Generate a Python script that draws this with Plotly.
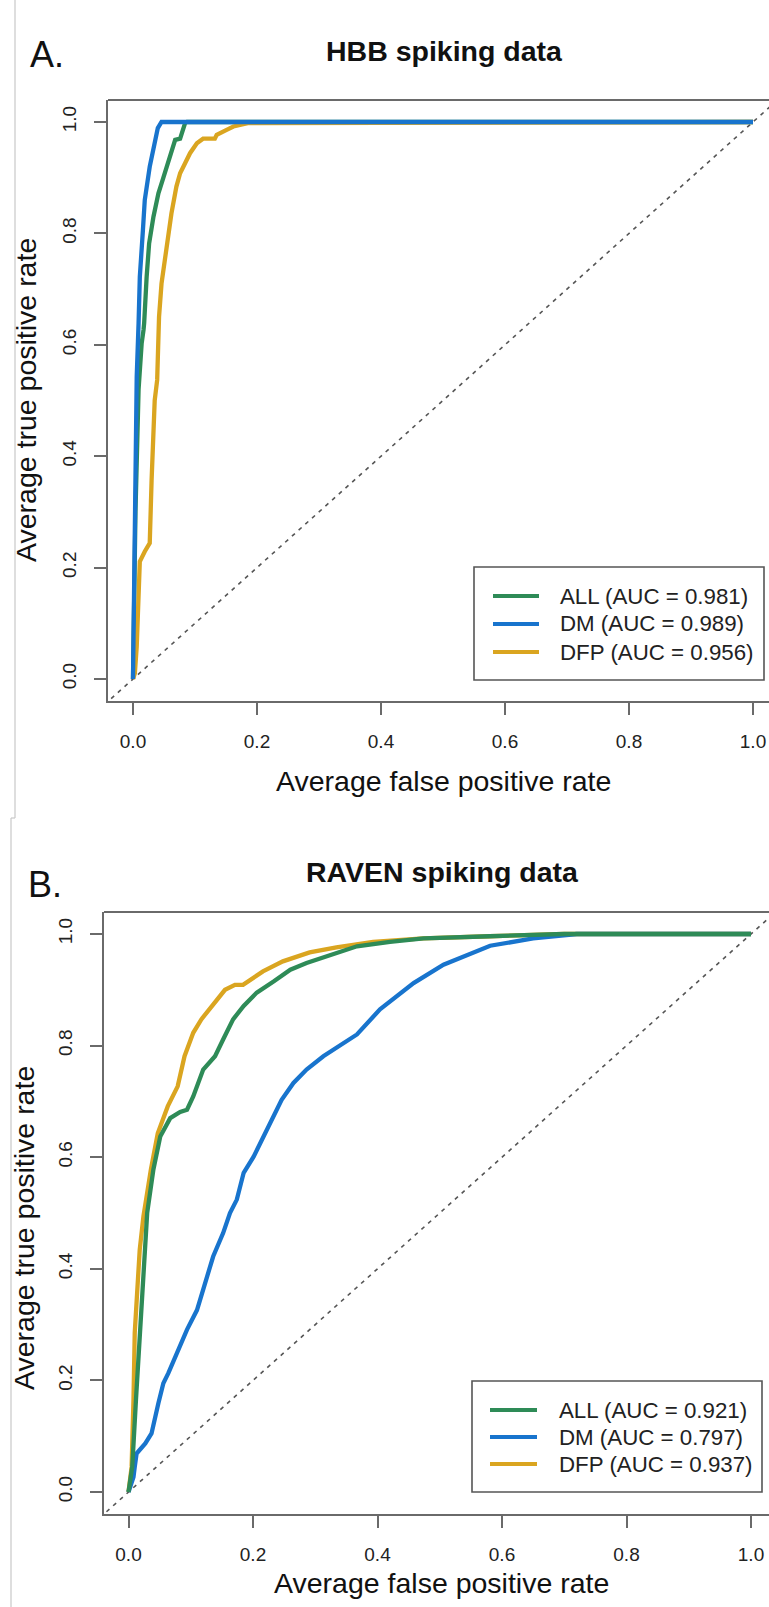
import plotly.graph_objects as go

# ---------------- data ----------------
tick_vals = [0.0, 0.2, 0.4, 0.6, 0.8, 1.0]
tick_text = ["0.0", "0.2", "0.4", "0.6", "0.8", "1.0"]

series_names = ["ALL", "DM", "DFP"]
series_colors = ["#2E8B57", "#1874CD", "#DAA520"]

panel_titles = ["HBB spiking data", "RAVEN spiking data"]
panel_letters = ["A.", "B."]

hbb_auc = [0.981, 0.989, 0.956]
raven_auc = [0.921, 0.797, 0.937]

# HBB spiking data (panel A)
hbb_all_fpr = [0, 0.004, 0.009, 0.012, 0.014, 0.017, 0.018, 0.022, 0.026, 0.033, 0.041, 0.049, 0.060, 0.068, 0.076, 0.084, 0.087, 1.0]
hbb_all_tpr = [0, 0.30, 0.52, 0.58, 0.603, 0.627, 0.639, 0.722, 0.782, 0.83, 0.872, 0.90, 0.938, 0.968, 0.97, 0.998, 1.0, 1.0]

hbb_dm_fpr = [0, 0.002, 0.004, 0.006, 0.009, 0.011, 0.016, 0.019, 0.027, 0.033, 0.040, 0.046, 1.0]
hbb_dm_tpr = [0, 0.178, 0.36, 0.543, 0.639, 0.722, 0.806, 0.86, 0.92, 0.956, 0.989, 1.0, 1.0]

hbb_dfp_fpr = [0, 0.003, 0.006, 0.009, 0.011, 0.019, 0.027, 0.030, 0.033, 0.035, 0.039, 0.040, 0.042, 0.046, 0.052,
               0.057, 0.062, 0.070, 0.076, 0.084, 0.092, 0.103, 0.113, 0.132, 0.135, 0.151, 0.162, 0.185, 1.0]
hbb_dfp_tpr = [0, 0.01, 0.058, 0.166, 0.211, 0.229, 0.244, 0.357, 0.459, 0.50, 0.537, 0.579, 0.65, 0.71, 0.758,
               0.80, 0.836, 0.884, 0.908, 0.926, 0.944, 0.962, 0.97, 0.97, 0.977, 0.986, 0.992, 0.998, 1.0]

# RAVEN spiking data (panel B)
raven_all_fpr = [0, 0.006, 0.012, 0.018, 0.026, 0.030, 0.040, 0.051, 0.067, 0.083, 0.094, 0.104, 0.120, 0.139, 0.152,
                 0.168, 0.185, 0.206, 0.233, 0.260, 0.286, 0.324, 0.367, 0.420, 0.474, 0.580, 0.70, 1.0]
raven_all_tpr = [0, 0.045, 0.165, 0.285, 0.434, 0.50, 0.578, 0.637, 0.670, 0.681, 0.685, 0.709, 0.757, 0.781, 0.811,
                 0.847, 0.871, 0.895, 0.915, 0.936, 0.948, 0.963, 0.978, 0.986, 0.992, 0.996, 1.0, 1.0]

raven_dm_fpr = [0, 0.008, 0.010, 0.013, 0.027, 0.037, 0.048, 0.056, 0.064, 0.077, 0.094, 0.110, 0.126, 0.136, 0.152,
                0.163, 0.174, 0.185, 0.201, 0.217, 0.230, 0.246, 0.265, 0.286, 0.313, 0.345, 0.367, 0.404, 0.431,
                0.458, 0.506, 0.544, 0.581, 0.65, 0.72, 1.0]
raven_dm_tpr = [0, 0.027, 0.045, 0.069, 0.087, 0.105, 0.159, 0.195, 0.213, 0.249, 0.291, 0.326, 0.386, 0.422, 0.464,
                0.500, 0.524, 0.572, 0.601, 0.637, 0.667, 0.703, 0.733, 0.757, 0.781, 0.805, 0.820, 0.865, 0.889,
                0.912, 0.945, 0.963, 0.979, 0.992, 1.0, 1.0]

raven_dfp_fpr = [0, 0.005, 0.008, 0.010, 0.018, 0.024, 0.036, 0.047, 0.063, 0.079, 0.090, 0.104, 0.117, 0.136, 0.155,
                 0.171, 0.184, 0.216, 0.248, 0.291, 0.334, 0.393, 0.473, 0.580, 0.70, 1.0]
raven_dfp_tpr = [0, 0.045, 0.165, 0.285, 0.434, 0.494, 0.578, 0.643, 0.691, 0.727, 0.781, 0.823, 0.847, 0.874, 0.900,
                 0.909, 0.909, 0.933, 0.951, 0.967, 0.976, 0.986, 0.992, 0.996, 1.0, 1.0]

diag_x = [-0.1, 1.1]
diag_y = [-0.1, 1.1]

x_label = "Average false positive rate"
y_label = "Average true positive rate"

# ---------------- layout helpers ----------------
W, H = 769, 1607
FONT = "Liberation Sans, Arial, sans-serif"
AXC = "#6a6a6a"


def px(x):
    return x / W


def py(y):
    return 1 - y / H


fig = go.Figure()

panels = [
    dict(curves=[(hbb_all_fpr, hbb_all_tpr), (hbb_dm_fpr, hbb_dm_tpr), (hbb_dfp_fpr, hbb_dfp_tpr)],
         auc=hbb_auc, xa="x", ya="y", order=[0, 2, 1]),
    dict(curves=[(raven_all_fpr, raven_all_tpr), (raven_dm_fpr, raven_dm_tpr), (raven_dfp_fpr, raven_dfp_tpr)],
         auc=raven_auc, xa="x2", ya="y2", order=[2, 1, 0]),
]

for p in panels:
    fig.add_trace(go.Scatter(x=diag_x, y=diag_y, mode="lines", xaxis=p["xa"], yaxis=p["ya"],
                             line=dict(color="#555555", width=1.6, dash="4px,5px"),
                             showlegend=False, hoverinfo="skip"))
    for i in p["order"]:
        fx, ty = p["curves"][i]
        fig.add_trace(go.Scatter(x=fx, y=ty, mode="lines", xaxis=p["xa"], yaxis=p["ya"],
                                 line=dict(color=series_colors[i], width=4.3),
                                 name=f"{series_names[i]} (AUC = {p['auc'][i]:.3f})", showlegend=False))

axis_common = dict(showgrid=False, zeroline=False, showline=True, linecolor=AXC, linewidth=2,
                   ticks="outside", ticklen=12, tickwidth=1.6, tickcolor=AXC,
                   tickvals=tick_vals, ticktext=tick_text,
                   tickfont=dict(family=FONT, size=19, color="#222222"))

# Panel A geometry (pixels)
A = dict(left=108, top=100, bottom=701, x0=133, xs=620, y0=679, ys=557)
# Panel B geometry (pixels)
B = dict(left=104, top=912, bottom=1514, x0=128.5, xs=622.5, y0=1492, ys=558)


def xrange_for(g):
    return [(g["left"] - g["x0"]) / g["xs"], (W - g["x0"]) / g["xs"]]


def yrange_for(g):
    return [(g["y0"] - g["bottom"]) / g["ys"], (g["y0"] - g["top"]) / g["ys"]]


fig.update_layout(
    width=W, height=H, margin=dict(l=0, r=0, t=0, b=0),
    paper_bgcolor="white", plot_bgcolor="white", showlegend=False,
    xaxis=dict(axis_common, domain=[px(A["left"]), 1], range=xrange_for(A), anchor="y",
               ticklabelstandoff=10),
    yaxis=dict(axis_common, domain=[py(A["bottom"]), py(A["top"])], range=yrange_for(A), anchor="x",
               tickangle=-90, ticklabelstandoff=10),
    xaxis2=dict(axis_common, domain=[px(B["left"]), 1], range=xrange_for(B), anchor="y2",
                ticklabelstandoff=10),
    yaxis2=dict(axis_common, domain=[py(B["bottom"]), py(B["top"])], range=yrange_for(B), anchor="x2",
                tickangle=-90, ticklabelstandoff=10),
)

shapes = []
annotations = []

# Screenshot frame lines
frame = "#c8c8c8"
shapes.append(dict(type="line", xref="paper", yref="paper", x0=px(15), x1=px(15), y0=py(0), y1=py(818),
                   line=dict(color=frame, width=1.2)))
shapes.append(dict(type="line", xref="paper", yref="paper", x0=px(11), x1=px(15), y0=py(818), y1=py(818),
                   line=dict(color=frame, width=1.2)))
shapes.append(dict(type="line", xref="paper", yref="paper", x0=px(11), x1=px(11), y0=py(818), y1=py(H),
                   line=dict(color=frame, width=1.2)))

panel_geo = [
    dict(g=A, title_y=50.5, letter_x=28, letter_y=54, xlab_y=781, ylab_x=26, ylab_y=400,
         leg=dict(x0=474, x1=764, y0=567, y1=680, rows=[596, 624, 652], lx0=493, lx1=539, tx=558)),
    dict(g=B, title_y=872, letter_x=26, letter_y=884, xlab_y=1583, ylab_x=24, ylab_y=1228,
         leg=dict(x0=472, x1=762, y0=1381, y1=1492, rows=[1410, 1437, 1464], lx0=490, lx1=537, tx=557)),
]

for pg, title, letter, p in zip(panel_geo, panel_titles, panel_letters, panels):
    g = pg["g"]
    # top border of the plot box
    shapes.append(dict(type="line", xref="paper", yref="paper", x0=px(g["left"]), x1=1,
                       y0=py(g["top"]), y1=py(g["top"]), line=dict(color=AXC, width=2)))
    cx = (g["left"] + g["left"] + g["xs"] * 1.08) / 2
    annotations.append(dict(text=f"<b>{title}</b>", xref="paper", yref="paper", x=px(cx + 2), y=py(pg["title_y"]),
                            xanchor="center", yanchor="middle", showarrow=False,
                            font=dict(family=FONT, size=28.5, color="#111111")))
    annotations.append(dict(text=letter, xref="paper", yref="paper", x=px(pg["letter_x"]), y=py(pg["letter_y"]),
                            xanchor="left", yanchor="middle", showarrow=False,
                            font=dict(family=FONT, size=36, color="#111111")))
    annotations.append(dict(text=x_label, xref="paper", yref="paper", x=px(cx + 1), y=py(pg["xlab_y"]),
                            xanchor="center", yanchor="middle", showarrow=False,
                            font=dict(family=FONT, size=28.5, color="#111111")))
    annotations.append(dict(text=y_label, xref="paper", yref="paper", x=px(pg["ylab_x"]), y=py(pg["ylab_y"]),
                            xanchor="center", yanchor="middle", showarrow=False, textangle=-90,
                            font=dict(family=FONT, size=28.5, color="#111111")))
    # legend box
    lg = pg["leg"]
    shapes.append(dict(type="rect", xref="paper", yref="paper", x0=px(lg["x0"]), x1=px(lg["x1"]),
                       y0=py(lg["y1"]), y1=py(lg["y0"]), line=dict(color="#555555", width=1.6),
                       fillcolor="white", layer="above"))
    for ry, name, col, auc in zip(lg["rows"], series_names, series_colors, p["auc"]):
        shapes.append(dict(type="line", xref="paper", yref="paper", x0=px(lg["lx0"]), x1=px(lg["lx1"]),
                           y0=py(ry), y1=py(ry), line=dict(color=col, width=4.2), layer="above"))
        annotations.append(dict(text=f"{name} (AUC = {auc:.3f})", xref="paper", yref="paper",
                                x=px(lg["tx"]), y=py(ry), xanchor="left", yanchor="middle", showarrow=False,
                                font=dict(family=FONT, size=22.3, color="#222222")))

fig.update_layout(shapes=shapes, annotations=annotations)

fig.write_html("out.html",
               config={"displayModeBar": False},
               post_script="document.body.style.margin='0';document.body.style.padding='0';"
                           "document.documentElement.style.overflow='hidden';")
